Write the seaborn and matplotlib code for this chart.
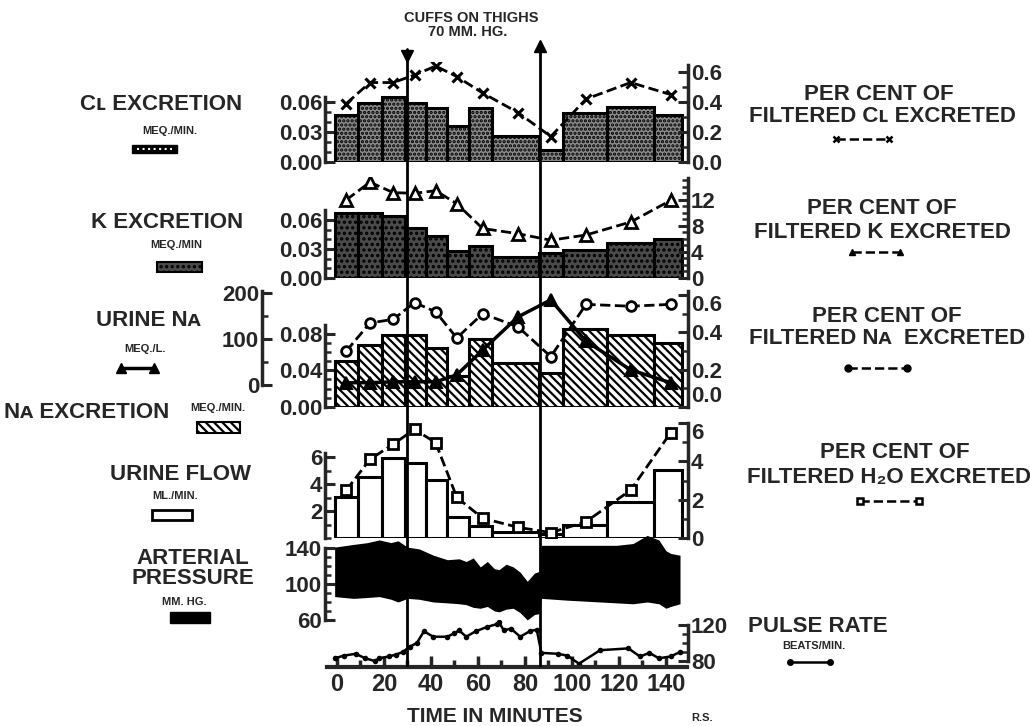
import numpy as np
import matplotlib
matplotlib.use("Agg")
import matplotlib.pyplot as plt
from matplotlib.patches import Rectangle
import seaborn as sns

# --------------------------
# Data
# --------------------------
# collection periods (minutes) and their mid points
period_edges = [-1, 9, 19, 29, 38, 47, 56, 66, 86, 96, 115, 135, 147]
mid_times = [4, 14, 24, 33, 42, 51, 62, 77, 91, 106, 125, 142]
cuff_on, cuff_off = 30, 86.5

cl_excretion = [0.047, 0.059, 0.065, 0.059, 0.054, 0.036, 0.054, 0.026, 0.012, 0.049, 0.055, 0.047]
cl_pct = [0.39, 0.53, 0.53, 0.58, 0.64, 0.57, 0.46, 0.33, 0.17, 0.42, 0.53, 0.45]

k_excretion = [0.067, 0.067, 0.064, 0.052, 0.043, 0.028, 0.033, 0.022, 0.026, 0.029, 0.036, 0.040]
k_pct = [12.0, 14.7, 13.1, 13.0, 13.4, 11.4, 7.6, 6.8, 5.8, 6.6, 8.6, 11.9]

na_excretion = [0.050, 0.068, 0.078, 0.078, 0.064, 0.034, 0.074, 0.048, 0.037, 0.085, 0.078, 0.070]
na_pct = [0.30, 0.45, 0.47, 0.56, 0.51, 0.37, 0.50, 0.43, 0.27, 0.55, 0.54, 0.55]
urine_na = [5, 5, 7, 7, 7, 22, 76, 148, 185, 95, 33, 5]

urine_flow = [3.06, 4.54, 5.9, 5.53, 4.3, 1.58, 0.89, 0.47, 0.3, 0.96, 2.69, 5.04]
h2o_pct = [2.5, 4.1, 4.9, 5.67, 4.97, 2.12, 1.03, 0.56, 0.28, 0.85, 2.5, 5.49]

press_t = [-1, 7, 13, 18, 23, 26, 30, 35, 41, 47, 52, 55, 58, 61, 64, 67, 69, 72, 75, 78,
           81, 84, 86, 87, 98, 112, 119, 126, 132, 137, 140, 142, 146]
systolic = [141, 144, 146, 149, 146, 148, 141, 139, 132, 127, 128, 125, 129, 119, 125, 117, 116,
            122, 119, 113, 103, 112, 114, 143, 143, 143, 143, 145, 154, 149, 137, 134, 132]
diastolic = [86, 84, 85, 86, 83, 80, 84, 83, 80, 79, 78, 77, 74, 73, 75, 70, 69, 72, 73, 68,
             60, 66, 67, 84, 82, 80, 79, 78, 80, 78, 73, 75, 78]

pulse_t = [-1, 3, 8, 12, 16, 18, 22, 25, 28, 31, 34, 37, 41, 47, 50, 52, 55, 59, 64, 68, 69,
           71, 74, 78, 82, 85, 87, 94, 98, 103, 112, 124, 129, 133, 137, 142, 146]
pulse = [83, 86, 88, 83, 80, 83, 85, 87, 90, 96, 100, 113, 107, 107, 111, 114, 107, 113, 118,
         121, 123, 114, 116, 107, 113, 115, 89, 88, 86, 77, 92, 94, 85, 89, 83, 85, 90]

# --------------------------
# Style
# --------------------------
sns.set_style("ticks")
plt.rcParams['font.family'] = ['Liberation Sans', 'DejaVu Sans']
plt.rcParams['font.weight'] = 'bold'
plt.rcParams['hatch.linewidth'] = 1.6

W, H = 1030, 726
fig = plt.figure(figsize=(W / 100, H / 100), dpi=100)
XL, XR = 325, 688
xlim = (-5.1, 149.4)
widths = np.diff(period_edges)
lefts = period_edges[:-1]
TICK_FS = 16


def px_axes(top, bottom):
    ax = fig.add_axes([XL / W, 1 - bottom / H, (XR - XL) / W, (bottom - top) / H])
    ax.set_xlim(xlim)
    ax.patch.set_alpha(0)
    return ax


def bracket(ax, side, lo, hi, ylim, major, labels, minor=None):
    ax.set_ylim(ylim)
    for s in ['top', 'bottom', 'left', 'right']:
        ax.spines[s].set_visible(False)
    ax.spines[side].set_visible(True)
    ax.spines[side].set_bounds(lo, hi)
    ax.spines[side].set_linewidth(2.5)
    ax.yaxis.set_ticks_position(side)
    ax.set_yticks(major)
    ax.set_yticklabels(labels)
    if minor is not None:
        ax.set_yticks(minor, minor=True)
    ax.tick_params(axis='y', which='major', direction='in', length=7, width=2.2, pad=2,
                   labelsize=TICK_FS)
    ax.tick_params(axis='y', which='minor', direction='in', length=4, width=1.8)
    ax.tick_params(axis='x', which='both', bottom=False, top=False, labelbottom=False)


def nudge(ax, idx, va):
    # shift one tick label off its neighbour panel
    for t in ax.yaxis.get_major_ticks()[idx:idx + 1]:
        t.label1.set_va(va)
        t.label2.set_va(va)


def bars(ax, heights, **kw):
    ax.bar(lefts, heights, width=widths, align='edge', edgecolor='k', linewidth=2.2, **kw)


# --------------------------
# Cl panel
# --------------------------
ax1 = px_axes(62, 162)
bars(ax1, cl_excretion, color='#8c8c8c', hatch='....')
bracket(ax1, 'left', 0, 0.065, (0, 0.100), [0, 0.03, 0.06], ['0.00', '0.03', '0.06'],
        [0.01, 0.02, 0.04, 0.05])
ax1r = ax1.twinx()
ax1r.set_xlim(xlim)
sns.lineplot(x=mid_times, y=cl_pct, ax=ax1r, color='k', lw=2, linestyle='--', marker='x',
             markersize=7, markeredgewidth=2.2, markeredgecolor='k')
bracket(ax1r, 'right', 0, 0.65, (0, 0.667), [0, 0.2, 0.4, 0.6], ['0.0', '0.2', '0.4', '0.6'],
        [0.1, 0.3, 0.5])

# --------------------------
# K panel
# --------------------------
ax2 = px_axes(177, 278)
bars(ax2, k_excretion, color='#4a4a4a', hatch='...')
bracket(ax2, 'left', 0, 0.07, (0, 0.1045), [0, 0.03, 0.06], ['0.00', '0.03', '0.06'],
        [0.01, 0.02, 0.04, 0.05])
ax2r = ax2.twinx()
ax2r.set_xlim(xlim)
sns.lineplot(x=mid_times, y=k_pct, ax=ax2r, color='k', lw=2, linestyle='--', marker='^',
             markersize=9, markeredgewidth=2, markeredgecolor='k', markerfacecolor='white')
bracket(ax2r, 'right', 0, 15.3, (0, 15.5), [0, 4, 8, 12], ['0', '4', '8', '12'],
        [1, 2, 3, 5, 6, 7, 9, 10, 11, 13, 14, 15])

# --------------------------
# Na panel
# --------------------------
ax3 = px_axes(290, 407)
bars(ax3, na_excretion, color='white', hatch='\\\\\\\\')
bracket(ax3, 'left', 0, 0.089, (0, 0.1275), [0, 0.04, 0.08], ['0.00', '0.04', '0.08'],
        [0.01, 0.02, 0.03, 0.05, 0.06, 0.07])
ax3o = ax3.twinx()
ax3o.set_xlim(xlim)
sns.lineplot(x=mid_times, y=urine_na, ax=ax3o, color='k', lw=2.5, marker='^',
             markersize=8, markeredgewidth=1.5, markeredgecolor='k')
bracket(ax3o, 'left', 0, 205, (-47.8, 206.5), [0, 100, 200], ['0', '100', '200'], [50, 150])
ax3o.spines['left'].set_position(('axes', (262 - XL) / (XR - XL)))
ax3o.yaxis.set_label_position('left')
ax3r = ax3.twinx()
ax3r.set_xlim(xlim)
sns.lineplot(x=mid_times, y=na_pct, ax=ax3r, color='k', lw=2, linestyle='--', marker='o',
             markersize=7, markeredgewidth=2, markeredgecolor='k', markerfacecolor='white')
bracket(ax3r, 'right', 0, 0.62, (0, 0.627), [0, 0.2, 0.4, 0.6], ['0.0', '0.2', '0.4', '0.6'],
        [0.1, 0.3, 0.5])
nudge(ax3r, 3, 'top')
nudge(ax3r, 0, 'bottom')

# --------------------------
# Urine flow panel
# --------------------------
ax4 = px_axes(423, 538)
bars(ax4, urine_flow, color='white')
bracket(ax4, 'left', 0, 6.3, (0, 8.52), [2, 4, 6], ['2', '4', '6'], [0, 1, 3, 5])
ax4r = ax4.twinx()
ax4r.set_xlim(xlim)
sns.lineplot(x=mid_times, y=h2o_pct, ax=ax4r, color='k', lw=2, linestyle='--', marker='s',
             markersize=7, markeredgewidth=2, markeredgecolor='k', markerfacecolor='white')
bracket(ax4r, 'right', 0, 6, (0, 6), [0, 2, 4, 6], ['0', '2', '4', '6'], [1, 3, 5])
nudge(ax4r, 3, 'top')

# --------------------------
# Arterial pressure panel
# --------------------------
ax5 = px_axes(533, 625)
ax5.fill_between(press_t, diastolic, systolic, color='k', lw=0)
bracket(ax5, 'left', 60, 140, (54.4, 156.7), [60, 100, 140], ['60', '100', '140'],
        [70, 80, 90, 110, 120, 130])

# --------------------------
# Pulse rate panel + time axis
# --------------------------
ax6 = px_axes(620, 667)
sns.lineplot(x=pulse_t, y=pulse, ax=ax6, color='k', lw=1.8, marker='o', markersize=4,
             markeredgewidth=0, markeredgecolor='k')
bracket(ax6, 'right', 80, 120, (73.3, 125.6), [80, 120], ['80', '120'],
        [90, 100, 110])
ax6.spines['bottom'].set_visible(True)
ax6.spines['bottom'].set_linewidth(3)
ax6.spines['bottom'].set_bounds(-4.3, 149)
ax6.set_xticks(np.arange(0, 141, 20))
ax6.set_xticks(np.arange(10, 150, 20), minor=True)
ax6.set_xticklabels([str(v) for v in range(0, 141, 20)])
ax6.tick_params(axis='x', which='both', bottom=True, labelbottom=True, direction='in',
                width=2.5, pad=4, labelsize=TICK_FS + 1)
ax6.tick_params(axis='x', which='major', length=8)
ax6.tick_params(axis='x', which='minor', length=5)

# --------------------------
# Cuff lines
# --------------------------
axc = px_axes(40, 667)
axc.set_ylim(0, 1)
axc.axis('off')
for t in (cuff_on, cuff_off):
    axc.axvline(t, ymin=0, ymax=0.985, color='k', lw=2)
axc.plot([cuff_on], [0.975], marker='v', color='k', markersize=8, clip_on=False)
axc.plot([cuff_off], [0.99], marker='^', color='k', markersize=8, clip_on=False)

# --------------------------
# Labels, keys (pixel overlay)
# --------------------------
axt = fig.add_axes([0, 0, 1, 1])
axt.set_xlim(0, W)
axt.set_ylim(H, 0)
axt.axis('off')
axt.patch.set_alpha(0)


def txt(x, y, s, size=16, ha='center'):
    axt.text(x, y, s, fontsize=size, fontweight='bold', ha=ha, va='center')


txt(471, 18, "CUFFS ON THIGHS", 10.5)
txt(468, 32, "70 MM. HG.", 10.5)

txt(161, 104, "Cʟ EXCRETION")
txt(170, 131, "MEQ./MIN.", 8)
txt(167, 223, "K EXCRETION")
txt(176, 245, "MEQ./MIN", 8)
txt(148, 320, "URINE Nᴀ")
txt(145, 349, "MEQ./L.", 8)
txt(87, 413, "Nᴀ EXCRETION")
txt(218, 408, "MEQ./MIN.", 8)
txt(180, 475, "URINE FLOW")
txt(175, 496, "ML./MIN.", 8)
txt(193, 558, "ARTERIAL")
txt(193, 578, "PRESSURE")
txt(184, 602, "MM. HG.", 8)

txt(879, 94, "PER CENT OF")
txt(882, 116, "FILTERED Cʟ EXCRETED")
txt(882, 208, "PER CENT OF")
txt(882, 232, "FILTERED K EXCRETED")
txt(887, 316, "PER CENT OF")
txt(887, 338, "FILTERED Nᴀ  EXCRETED")
txt(895, 453, "PER CENT OF")
txt(889, 477, "FILTERED H₂O EXCRETED")
txt(818, 626, "PULSE RATE")
txt(814, 646, "BEATS/MIN.", 8)

txt(495, 716, "TIME IN MINUTES", 15)
txt(702, 718, "R.S.", 8)

# left keys
axt.add_patch(Rectangle((132, 145), 45, 8, facecolor='k', edgecolor='k'))
axt.plot([137, 172], [149, 149], color='white', lw=1.5, ls=':')
axt.add_patch(Rectangle((157, 262), 45, 10, facecolor='#4a4a4a', edgecolor='k', hatch='...', lw=1.5))
axt.plot([121, 154], [368, 368], color='k', lw=2.5, marker='^', markersize=7)
axt.add_patch(Rectangle((197, 422), 43, 11, facecolor='white', edgecolor='k', hatch='\\\\\\\\', lw=1.5))
axt.add_patch(Rectangle((152, 510), 40, 10, facecolor='white', edgecolor='k', lw=2))
axt.add_patch(Rectangle((170, 612), 40, 11, facecolor='k', edgecolor='k'))

# right keys
axt.plot([836, 889], [139, 139], color='k', lw=1.8, ls='--', marker='x', markersize=4,
         markeredgewidth=1.8)
axt.plot([852, 900], [252, 252], color='k', lw=1.8, ls='--', marker='^', markersize=5)
axt.plot([848, 907], [368, 368], color='k', lw=1.8, ls='--', marker='o', markersize=5)
axt.plot([860, 919], [501, 501], color='k', lw=1.8, ls='--', marker='s', markersize=5,
         markerfacecolor='white', markeredgewidth=1.8)
axt.plot([790, 830], [662, 662], color='k', lw=1.8, marker='o', markersize=4)

fig.savefig("out.png", dpi=100)
